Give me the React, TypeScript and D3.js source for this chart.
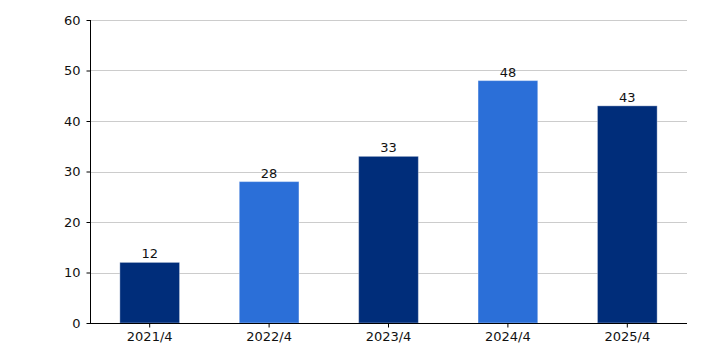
import { useEffect, useRef } from "react"
import * as d3 from "d3"

const categories = ["2021/4", "2022/4", "2023/4", "2024/4", "2025/4"]
const values = [12, 28, 33, 48, 43]
const yTicks = [0, 10, 20, 30, 40, 50, 60]
const colors = ["#002d7a", "#2b6fd8"]

export default function App() {
  const ref = useRef<SVGSVGElement | null>(null)

  useEffect(() => {
    const svg = d3.select(ref.current)
    svg.selectAll("*").remove()

    const width = 706
    const height = 353
    const margin = { top: 20, right: 19, bottom: 30, left: 90 }
    const font = "DejaVu Sans, Verdana, sans-serif"

    const x = d3.scaleBand()
      .domain(categories)
      .range([margin.left, width - margin.right])
      .paddingInner(0.5)
      .paddingOuter(0.25)

    const y = d3.scaleLinear()
      .domain([0, 60])
      .range([height - margin.bottom, margin.top])

    // grid
    svg.append("g")
      .selectAll("line")
      .data(yTicks.filter(d => d > 0))
      .enter()
      .append("line")
      .attr("x1", margin.left)
      .attr("x2", width - margin.right)
      .attr("y1", d => Math.round(y(d)) + 0.5)
      .attr("y2", d => Math.round(y(d)) + 0.5)
      .attr("stroke", "#cccccc")
      .attr("stroke-width", 1)

    // bars
    svg.append("g")
      .selectAll("rect")
      .data(values)
      .enter()
      .append("rect")
      .attr("x", (d, i) => x(categories[i])!)
      .attr("y", d => y(d))
      .attr("width", x.bandwidth())
      .attr("height", d => y(0) - y(d))
      .attr("fill", (d, i) => colors[i % 2])
      .attr("stroke", "#ffffff")
      .attr("stroke-opacity", 0.35)
      .attr("stroke-width", 1)

    // value labels
    svg.append("g")
      .selectAll("text")
      .data(values)
      .enter()
      .append("text")
      .attr("x", (d, i) => x(categories[i])! + x.bandwidth() / 2)
      .attr("y", d => y(d) - 4)
      .attr("text-anchor", "middle")
      .style("font-family", font)
      .style("font-size", "13px")
      .style("fill", "#111")
      .text(d => d)

    // Y Axis
    const yAxis = svg.append("g")
      .attr("transform", `translate(${margin.left + 0.5},0)`)
      .call(d3.axisLeft(y).tickValues(yTicks).tickSize(4).tickPadding(6))

    yAxis.selectAll("text")
      .style("font-family", font)
      .style("font-size", "13px")
      .style("fill", "#111")
    yAxis.selectAll("path, line").style("stroke", "#000")
    yAxis.select(".domain").attr("d", `M0,${margin.top}V${y(0)}`)

    // X Axis
    const xAxis = svg.append("g")
      .attr("transform", `translate(0,${Math.round(y(0)) + 0.5})`)
      .call(d3.axisBottom(x).tickSize(4).tickPadding(4))

    xAxis.selectAll("text")
      .style("font-family", font)
      .style("font-size", "13px")
      .style("fill", "#111")
    xAxis.selectAll("path, line").style("stroke", "#000")
    xAxis.select(".domain").attr("d", `M${margin.left},0H${width - margin.right}`)
  }, [])

  return (
    <svg
      ref={ref}
      width={706}
      height={353}
      style={{ position: "fixed", top: 0, left: 0, background: "#fff" }}
    />
  )
}
